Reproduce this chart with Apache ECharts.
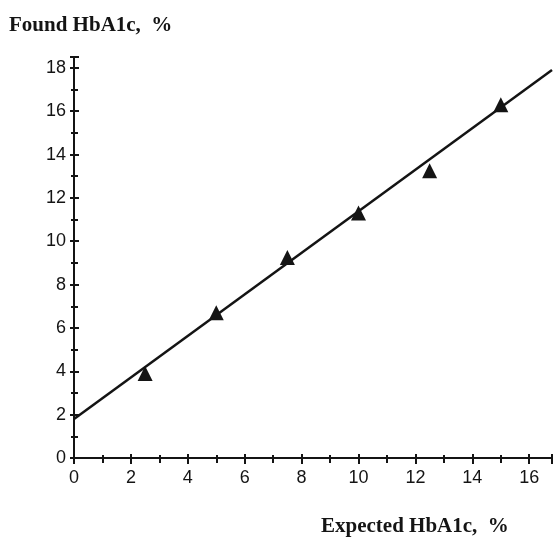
<!DOCTYPE html>
<html>
<head>
<meta charset="utf-8">
<script src="https://cdn.jsdelivr.net/npm/echarts@6/dist/echarts.min.js"></script>
<style>
  html, body { margin: 0; padding: 0; background: #fff; }
  #chart { width: 555px; height: 539px; }
</style>
</head>
<body>
<div id="chart"></div>
<script>
// measured points (expected vs found)
const expected = [2.5, 5, 7.5, 10, 12.5, 15];
const found = [3.9, 6.7, 9.25, 11.3, 13.25, 16.3];
// fitted line end points
const fitX = [0, 16.8];
const fitY = [1.8, 17.9];

const ink = '#141414';
const chart = echarts.init(document.getElementById('chart'));

// one axis draws ticks outside, the twin draws them inside -> ticks cross the line
function xAx(inside, show) {
  return {
    type: 'value', min: 0, max: 16.8, interval: 2, position: 'bottom',
    axisLine: { show: show, onZero: false, lineStyle: { color: ink, width: 2 } },
    axisTick: { show: true, inside: inside, length: inside ? 4 : 6, lineStyle: { color: ink, width: 2 } },
    minorTick: { show: true, splitNumber: 2, length: inside ? 3 : 5, lineStyle: { color: ink, width: 2 } },
    axisLabel: { show: !inside, color: ink, fontSize: 18, fontFamily: 'Liberation Sans', margin: 11,
      formatter: v => (v % 2 === 0 ? String(v) : '') },
    splitLine: { show: false }
  };
}
function yAx(inside, show) {
  return {
    type: 'value', min: 0, max: 18.5, interval: 2, position: 'left',
    axisLine: { show: show, onZero: false, lineStyle: { color: ink, width: 2 } },
    axisTick: { show: true, inside: inside, length: inside ? 5 : 4, lineStyle: { color: ink, width: 2 } },
    minorTick: { show: true, splitNumber: 2, length: inside ? 4 : 3, lineStyle: { color: ink, width: 2 } },
    axisLabel: { show: !inside, color: ink, fontSize: 18, fontFamily: 'Liberation Sans', margin: 8,
      formatter: v => (v % 2 === 0 ? String(v) : '') },
    splitLine: { show: false }
  };
}

chart.setOption({
  backgroundColor: '#fff',
  animation: false,
  grid: { left: 74, right: 0, top: 57, bottom: 81 },
  title: [
    { text: 'Found HbA1c,  %', left: 4, top: 10,
      textStyle: { fontFamily: 'Liberation Serif', fontWeight: 'bold', fontSize: 21, color: ink } },
    { text: 'Expected HbA1c,  %', left: 316, top: 511,
      textStyle: { fontFamily: 'Liberation Serif', fontWeight: 'bold', fontSize: 21, color: ink } }
  ],
  xAxis: [xAx(false, true), xAx(true, false)],
  yAxis: [yAx(false, true), yAx(true, false)],
  series: [
    {
      type: 'line',
      data: fitX.map((x, i) => [x, fitY[i]]),
      showSymbol: false,
      lineStyle: { color: ink, width: 2.5 },
      z: 3
    },
    {
      type: 'scatter',
      data: expected.map((x, i) => [x, found[i]]),
      symbol: 'triangle',
      symbolSize: [15, 15],
      itemStyle: { color: ink, opacity: 1 },
      z: 4
    }
  ]
});
</script>
</body>
</html>
